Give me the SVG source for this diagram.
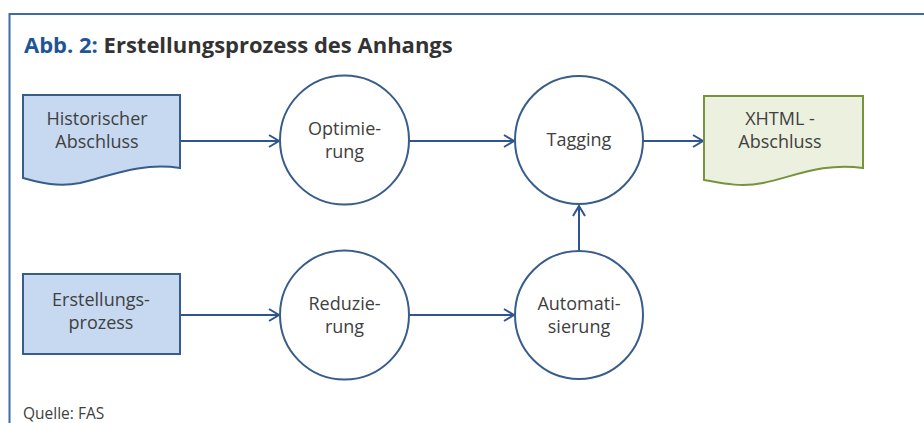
<svg xmlns="http://www.w3.org/2000/svg" width="924" height="423" viewBox="0 0 924 423">
<defs>
<marker id="ah" markerWidth="14" markerHeight="14" refX="11" refY="7" orient="auto" markerUnits="userSpaceOnUse">
<path d="M1,1 L11,7 L1,13" fill="none" stroke="#2f5590" stroke-width="2"/>
</marker>
<style>
.t{font-family:"Open Sans","Noto Sans",sans-serif;font-size:18px;fill:#404040;text-anchor:middle}
.c{fill:#ffffff;stroke:#385d8a;stroke-width:2}
.blue{fill:#c6d9f1;stroke:#385d8a;stroke-width:2}
.green{fill:#ebf1de;stroke:#77933c;stroke-width:2}
.e{fill:none;stroke:#2f5590;stroke-width:2;marker-end:url(#ah)}
</style>
</defs>
<rect width="924" height="423" fill="#ffffff"/>
<path d="M9.5,423 L9.5,14 L924,14" fill="none" stroke="#3d6ba5" stroke-width="2"/>
<text x="24" y="53" font-family="'Open Sans','Noto Sans',sans-serif" font-size="22" font-weight="bold"><tspan fill="#1f5596">Abb. 2: </tspan><tspan fill="#333333">Erstellungsprozess des Anhangs</tspan></text>
<g id="connectors">
<path class="e" d="M180,141 L279,141"/>
<path class="e" d="M409,141 L514,141"/>
<path class="e" d="M643,141 L703,141"/>
<path class="e" d="M180,315 L279,315"/>
<path class="e" d="M409,315 L514,315"/>
<path class="e" d="M579,251 L579,206"/>
</g>
<g id="historischer">
<path class="blue" d="M23,95 L180,95 L180,168 C140,162 110,176 80,183 C55,188 35,181 23,178 Z"/>
<text class="t" x="97" y="125">Historischer</text>
<text class="t" x="97" y="148">Abschluss</text>
</g>
<g id="erstellung">
<rect class="blue" x="23" y="274" width="157" height="80"/>
<text class="t" x="101" y="306">Erstellungs-</text>
<text class="t" x="101" y="329">prozess</text>
</g>
<g id="optimierung">
<circle class="c" cx="344.5" cy="140" r="64.5"/>
<text class="t" x="344.5" y="135">Optimie-</text>
<text class="t" x="344.5" y="158">rung</text>
</g>
<g id="tagging">
<circle class="c" cx="579" cy="140" r="64"/>
<text class="t" x="579" y="146">Tagging</text>
</g>
<g id="xhtml">
<path class="green" d="M704,96 L863,96 L863,168 C823,162 793,177 763,183 C738,188 717,182 704,180 Z"/>
<text class="t" x="780" y="125">XHTML -</text>
<text class="t" x="780" y="148">Abschluss</text>
</g>
<g id="reduzierung">
<circle class="c" cx="344.5" cy="315" r="64.5"/>
<text class="t" x="344.5" y="310">Reduzie-</text>
<text class="t" x="344.5" y="333">rung</text>
</g>
<g id="automatisierung">
<circle class="c" cx="579" cy="315" r="64"/>
<text class="t" x="579" y="310">Automati-</text>
<text class="t" x="579" y="333">sierung</text>
</g>
<text x="23" y="419" font-family="'Open Sans','Noto Sans',sans-serif" font-size="15.5" fill="#404040">Quelle: FAS</text>
</svg>
